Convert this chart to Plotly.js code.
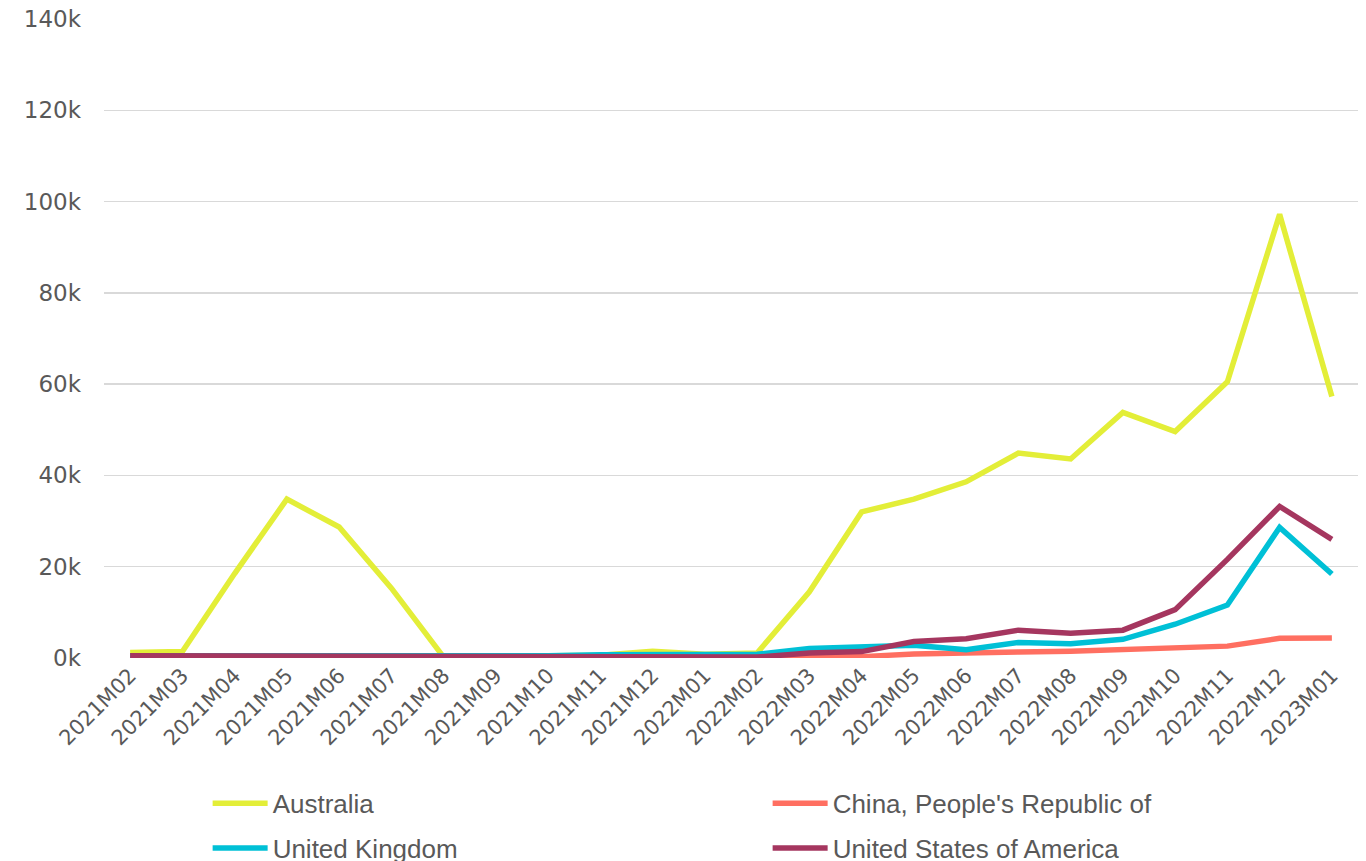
<!DOCTYPE html>
<html>
<head>
<meta charset="utf-8">
<script src="https://cdn.plot.ly/plotly-3.0.1.min.js"></script>
<style>
html,body{margin:0;padding:0;background:#fff;overflow:hidden;}
#chart{width:1366px;height:861px;}
</style>
</head>
<body>
<div id="chart"></div>
<script>
const months = ["2021M02","2021M03","2021M04","2021M05","2021M06","2021M07","2021M08","2021M09","2021M10","2021M11","2021M12","2022M01","2022M02","2022M03","2022M04","2022M05","2022M06","2022M07","2022M08","2022M09","2022M10","2022M11","2022M12","2023M01"];
const australia = [1200,1400,18500,34800,28700,15300,200,300,400,600,1500,800,1100,14500,32000,34800,38600,44900,43600,53800,49600,60500,97200,57300];
const china = [100,100,100,100,150,100,100,100,100,100,100,100,100,200,300,900,1000,1300,1500,1900,2300,2600,4300,4400];
const uk = [500,500,400,400,500,400,300,300,500,700,800,700,800,2100,2300,2800,1800,3400,3100,4100,7400,11600,28600,18400];
const usa = [500,500,400,400,500,300,200,200,200,300,400,300,200,1100,1400,3600,4200,6100,5400,6100,10600,21600,33200,26000];
const seriesNames = ["Australia","China, People's Republic of","United Kingdom","United States of America"];
const yTickVals = [0,20000,40000,60000,80000,100000,120000,140000];
const yTickText = ["0k","20k","40k","60k","80k","100k","120k","140k"];

const colors = ["#E3EE38","#FF6F61","#00C0D6","#A5365F"];
const values = [australia, china, uk, usa];
const legends = ["legend","legend","legend2","legend2"];

const traces = values.map((v,i)=>({
  type:"scatter", mode:"lines", x:months, y:v, name:seriesNames[i],
  line:{color:colors[i], width:5.5, shape:"linear"},
  legend:legends[i], hoverinfo:"x+y+name"
}));

const legendFont = {family:"Liberation Sans Narrow, Arial Narrow, sans-serif", size:26, color:"#595959"};
const legendCommon = {orientation:"h", xref:"container", yref:"container", x:0.152, xanchor:"left", yanchor:"middle",
    entrywidth:490, entrywidthmode:"pixels", itemwidth:55, font:legendFont, bgcolor:"rgba(0,0,0,0)", traceorder:"normal",
    borderwidth:0, tracegroupgap:0};
const layout = {
  width:1366, height:861,
  margin:{l:104, r:8, t:19, b:203, autoexpand:false},
  paper_bgcolor:"#fff", plot_bgcolor:"#fff",
  showlegend:true,
  xaxis:{
    type:"category", range:[-0.5, 23.5], showgrid:false, zeroline:false,
    showline:false, ticks:"", tickangle:-45, automargin:false,
    tickfont:{family:"DejaVu Sans, sans-serif", size:21, color:"#595959"}
  },
  yaxis:{
    range:[0,140000], tickvals:yTickVals, ticktext:yTickText, automargin:false,
    showgrid:true, gridcolor:"#D9D9D9", gridwidth:1.5, zeroline:false, showline:false,
    ticklabelstandoff:22,
    tickfont:{family:"DejaVu Sans, sans-serif", size:23, color:"#595959"}
  },
  legend:Object.assign({}, legendCommon, {y:0.067}),
  legend2:Object.assign({}, legendCommon, {y:0.015})
};
Plotly.newPlot("chart", traces, layout, {displayModeBar:false, staticPlot:true});
</script>
</body>
</html>
